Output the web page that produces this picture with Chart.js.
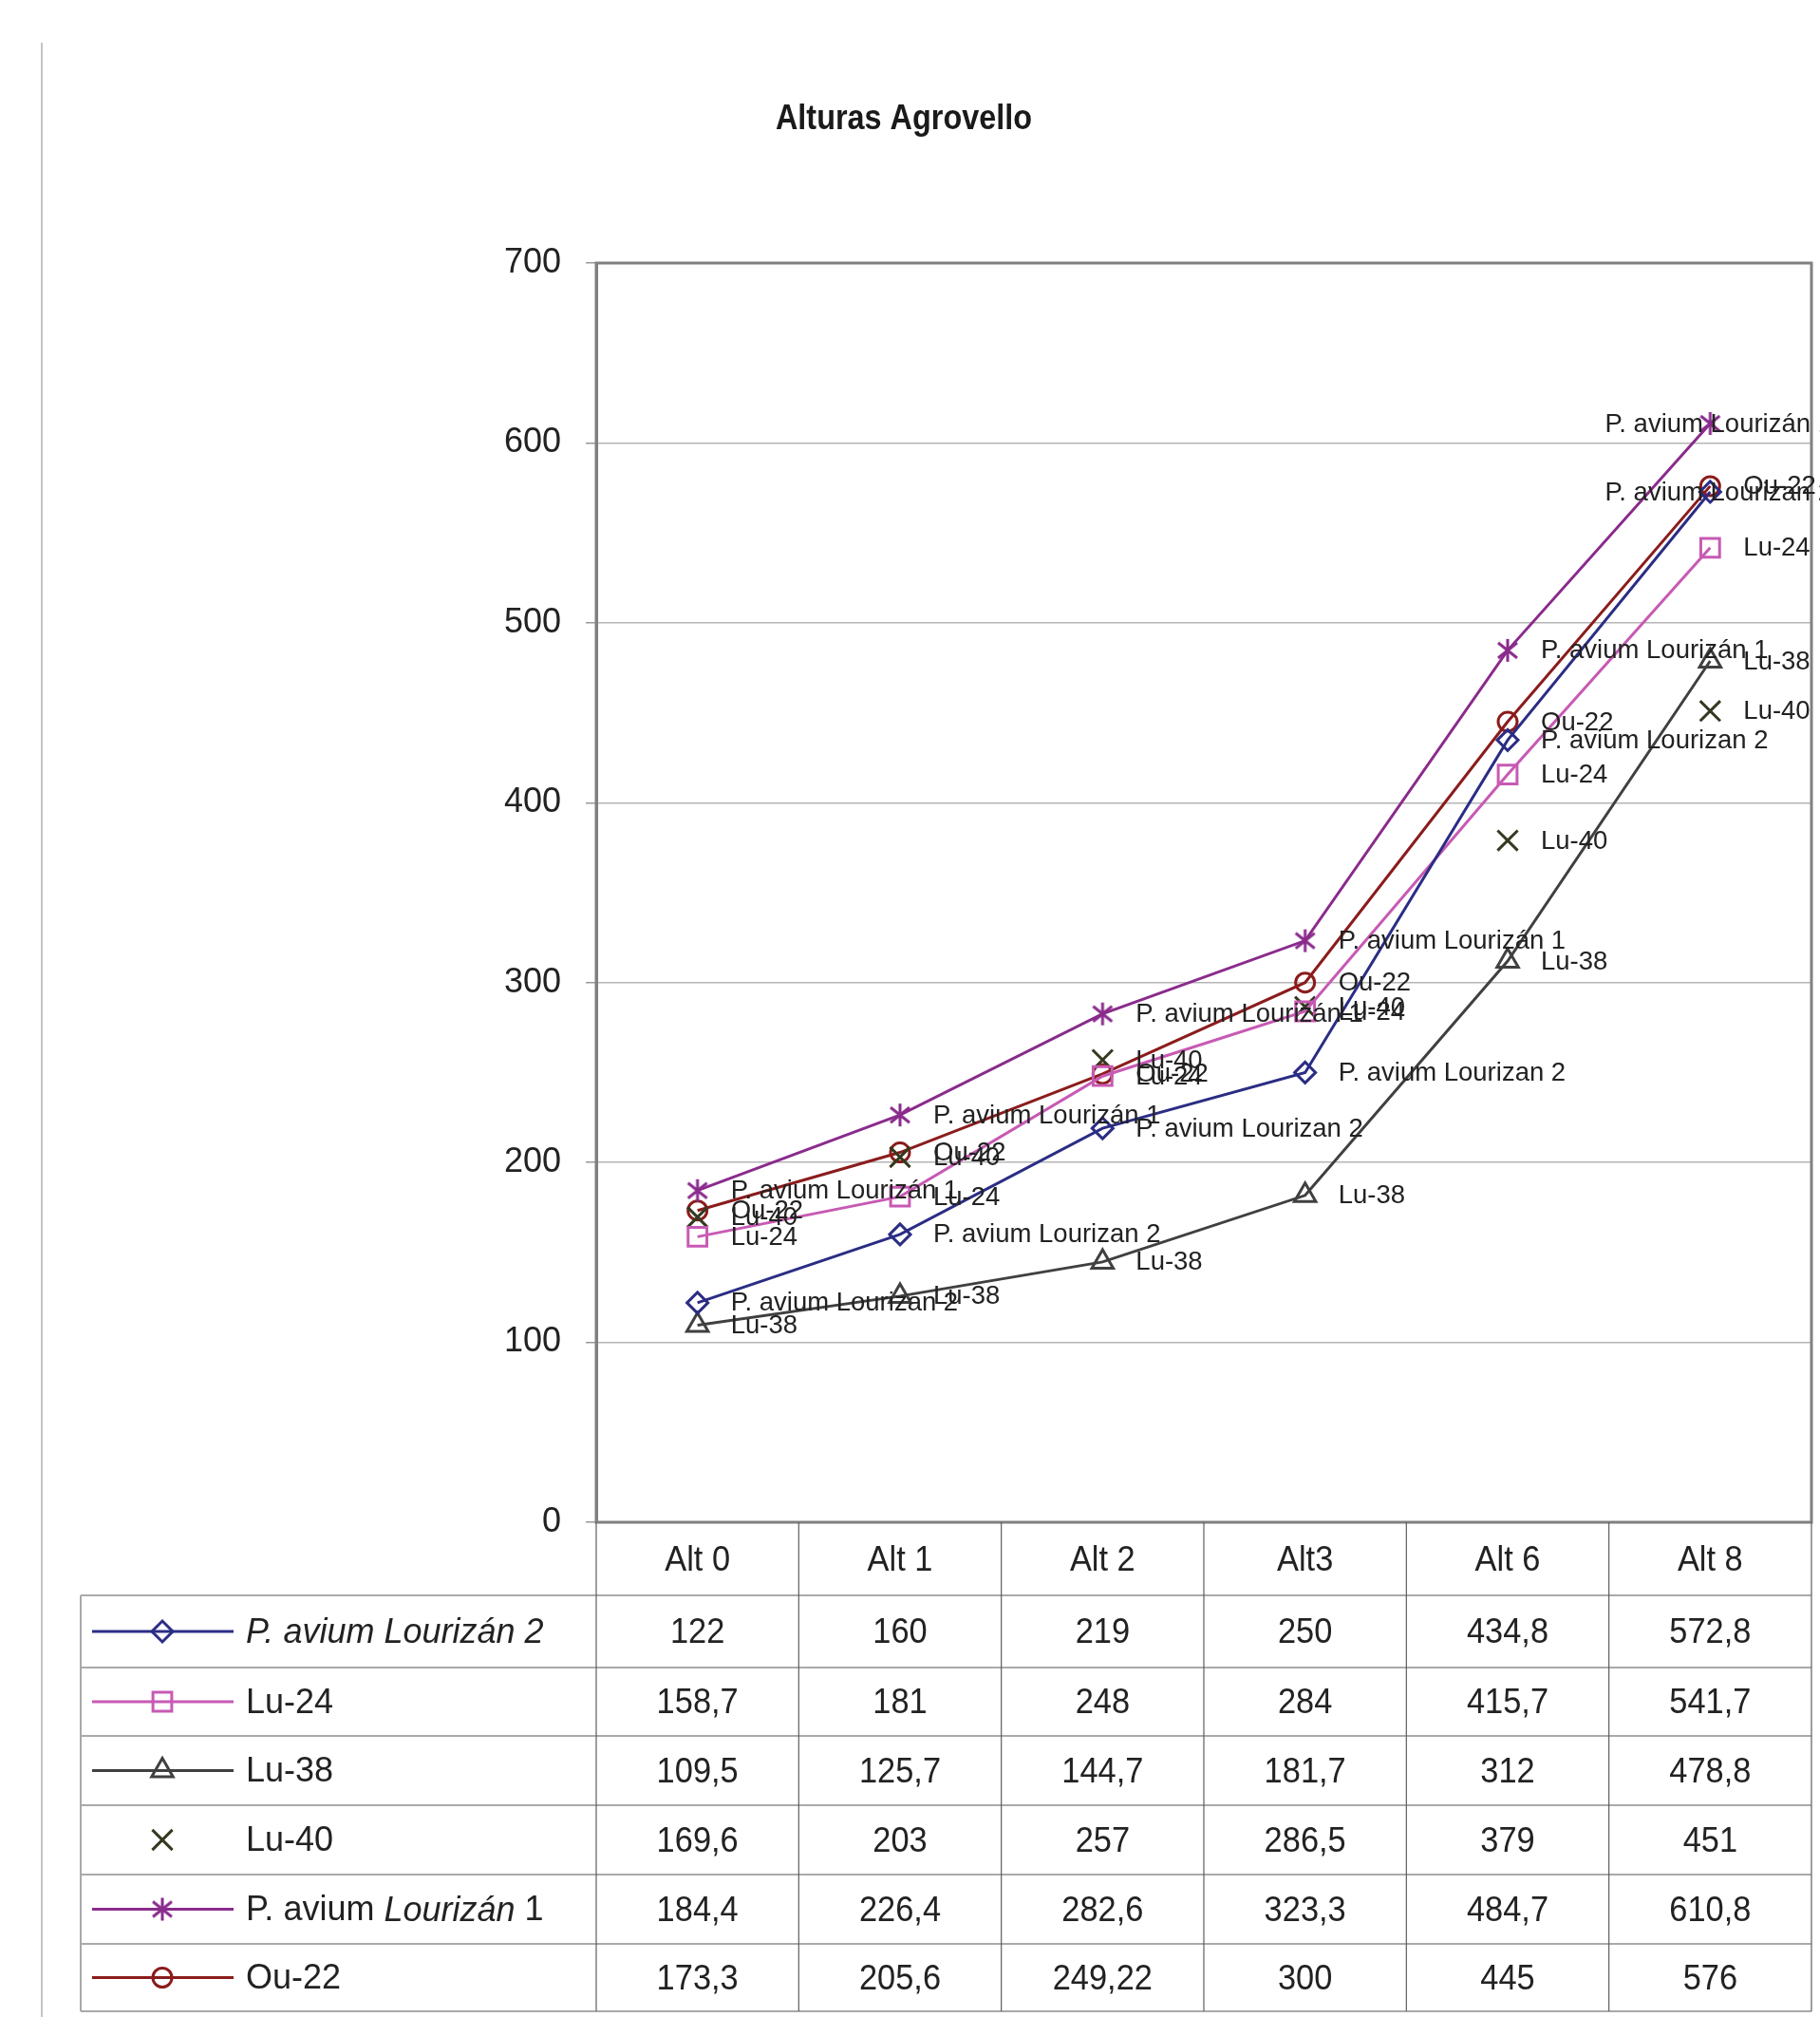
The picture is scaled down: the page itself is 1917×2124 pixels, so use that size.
<!DOCTYPE html>
<html>
<head>
<meta charset="utf-8">
<title>Alturas Agrovello</title>
<script src="https://cdn.jsdelivr.net/npm/chart.js@4.4.1/dist/chart.umd.min.js"></script>
<style>
  html, body { margin: 0; padding: 0; background: #fff; }
  #wrap { position: relative; width: 1917px; height: 2124px; }
  #page-line { position: absolute; left: 43px; top: 45px; width: 2px; height: 2079px; background: #c4c4c4; }
  canvas { position: absolute; left: 0; top: 0; }
</style>
</head>
<body>
<div id="wrap">
  <div id="page-line"></div>
  <canvas id="graph" width="1917" height="2124"></canvas>
</div>
<script>
const categories = ['Alt 0', 'Alt 1', 'Alt 2', 'Alt3', 'Alt 6', 'Alt 8'];

const lourizan2 = [122, 160, 219, 250, 434.8, 572.8];
const lu24 = [158.7, 181, 248, 284, 415.7, 541.7];
const lu38 = [109.5, 125.7, 144.7, 181.7, 312, 478.8];
const lu40 = [169.6, 203, 257, 286.5, 379, 451];
const lourizan1 = [184.4, 226.4, 282.6, 323.3, 484.7, 610.8];
const ou22 = [173.3, 205.6, 249.22, 300, 445, 576];

const seriesNames = ['P. avium Lourizán 2', 'Lu-24', 'Lu-38', 'Lu-40', 'P. avium Lourizán 1', 'Ou-22'];
// text shown next to each point
const pointLabels = ['P. avium Lourizan 2', 'Lu-24', 'Lu-38', 'Lu-40', 'P. avium Lourizán 1', 'Ou-22'];
// legend text in the data table, [text, italic]
const legendParts = [
  [['P. avium Lourizán 2', true]],
  [['Lu-24', false]],
  [['Lu-38', false]],
  [['Lu-40', false]],
  [['P. avium ', false], ['Lourizán', true], [' 1', false]],
  [['Ou-22', false]],
];

const yTicks = [0, 100, 200, 300, 400, 500, 600, 700];

const seriesValues = [lourizan2, lu24, lu38, lu40, lourizan1, ou22];
const colors = ['#2b2d84', '#c75ab4', '#404040', '#333a1f', '#8a2b8c', '#8b1c1c'];
const radii = [11, 14, 13, 15, 12, 10];

// excel-like asterisk marker (x plus vertical bar)
function asteriskMarker(color) {
  const c = document.createElement('canvas');
  c.width = 26;
  c.height = 26;
  const g = c.getContext('2d');
  g.strokeStyle = color;
  g.lineWidth = 3;
  g.beginPath();
  g.moveTo(13, 1); g.lineTo(13, 25);
  g.moveTo(3, 5); g.lineTo(23, 21);
  g.moveTo(23, 5); g.lineTo(3, 21);
  g.stroke();
  return c;
}

const markers = ['rectRot', 'rect', 'triangle', 'crossRot', asteriskMarker(colors[4]), 'circle'];

const FONT = "'Liberation Sans', Arial, sans-serif";
Chart.defaults.font.family = FONT;
Chart.defaults.color = '#222';

// table row boundaries (header row first)
const rowLines = [1603, 1680, 1756, 1828, 1901, 1974, 2047, 2118];
const tableLeft = 85;

const fmt = v => String(v).replace('.', ',');

const titlePlugin = {
  id: 'pageTitle',
  afterDraw(chart) {
    const ctx = chart.ctx;
    ctx.save();
    ctx.font = 'bold 36px ' + FONT;
    ctx.fillStyle = '#1a1a1a';
    ctx.textAlign = 'center';
    ctx.textBaseline = 'alphabetic';
    ctx.translate(952, 136);
    ctx.scale(0.9, 1);
    ctx.fillText('Alturas Agrovello', 0, 0);
    ctx.restore();
  }
};

const plotBorderPlugin = {
  id: 'plotBorder',
  beforeDatasetsDraw(chart) {
    const { ctx, chartArea: a } = chart;
    ctx.save();
    ctx.strokeStyle = '#808080';
    ctx.lineWidth = 3;
    ctx.strokeRect(a.left, a.top, a.right - a.left, a.bottom - a.top);
    ctx.restore();
  }
};

const pointLabelPlugin = {
  id: 'pointLabels',
  afterDatasetsDraw(chart) {
    const ctx = chart.ctx;
    ctx.save();
    ctx.font = '27.5px ' + FONT;
    ctx.fillStyle = '#222';
    ctx.textBaseline = 'middle';
    chart.data.datasets.forEach((ds, i) => {
      chart.getDatasetMeta(i).data.forEach(pt => {
        const text = pointLabels[i];
        const w = ctx.measureText(text).width;
        let x = pt.x + 35;
        if (x + w > 1930) x = 1930 - w;
        ctx.fillText(text, x, pt.y + 1);
      });
    });
    ctx.restore();
  }
};

const dataTablePlugin = {
  id: 'dataTable',
  afterDraw(chart) {
    const { ctx, chartArea: a } = chart;
    const xs = chart.scales.x;
    const colW = (a.right - a.left) / categories.length;
    const bottom = rowLines[rowLines.length - 1];
    ctx.save();

    // horizontal lines
    ctx.strokeStyle = '#a9a9a9';
    ctx.lineWidth = 2;
    rowLines.slice(1).forEach(y => {
      ctx.beginPath();
      ctx.moveTo(tableLeft, y);
      ctx.lineTo(a.right, y);
      ctx.stroke();
    });
    ctx.beginPath();
    ctx.moveTo(tableLeft, rowLines[1]);
    ctx.lineTo(tableLeft, bottom);
    ctx.stroke();

    // vertical column lines
    ctx.strokeStyle = '#5e5e5e';
    ctx.lineWidth = 1.2;
    for (let j = 0; j <= categories.length; j++) {
      const x = j < categories.length ? xs.getPixelForValue(j) - colW / 2 : xs.getPixelForValue(j - 1) + colW / 2;
      ctx.beginPath();
      ctx.moveTo(x, rowLines[0]);
      ctx.lineTo(x, bottom);
      ctx.stroke();
    }

    ctx.fillStyle = '#222';
    ctx.textAlign = 'center';
    ctx.textBaseline = 'middle';
    ctx.font = '37px ' + FONT;
    const narrowText = (t, x, y) => {
      ctx.save();
      ctx.translate(x, y);
      ctx.scale(0.93, 1);
      ctx.fillText(t, 0, 0);
      ctx.restore();
    };
    categories.forEach((c, j) => {
      narrowText(c, xs.getPixelForValue(j), (rowLines[0] + rowLines[1]) / 2 + 2);
    });
    seriesValues.forEach((vals, i) => {
      const yc = (rowLines[i + 1] + rowLines[i + 2]) / 2 + 2;
      vals.forEach((v, j) => narrowText(fmt(v), xs.getPixelForValue(j), yc));
    });

    // legend keys
    ctx.textAlign = 'left';
    seriesNames.forEach((name, i) => {
      const yc = (rowLines[i + 1] + rowLines[i + 2]) / 2;
      ctx.strokeStyle = colors[i];
      ctx.lineWidth = 3;
      if (i !== 3) {
        ctx.beginPath();
        ctx.moveTo(97, yc);
        ctx.lineTo(246, yc);
        ctx.stroke();
      }
      ctx.fillStyle = 'rgba(255,255,255,0)';
      ctx.lineWidth = 3;
      Chart.helpers.drawPoint(ctx, { pointStyle: markers[i], radius: radii[i], borderWidth: 3, rotation: 0 }, 171, yc);
      let x = 259;
      ctx.fillStyle = '#222';
      legendParts[i].forEach(([t, it]) => {
        ctx.font = (it ? 'italic ' : '') + '36px ' + FONT;
        ctx.fillText(t, x, yc + 2);
        x += ctx.measureText(t).width;
      });
    });
    ctx.restore();
  }
};

const chart = new Chart(document.getElementById('graph'), {
  type: 'line',
  data: {
    labels: categories,
    datasets: seriesNames.map((name, i) => ({
      label: name,
      data: seriesValues[i],
      borderColor: colors[i],
      backgroundColor: colors[i],
      borderWidth: 3,
      showLine: i !== 3,
      tension: 0,
      pointStyle: markers[i],
      pointRadius: radii[i],
      pointHoverRadius: radii[i],
      pointBorderColor: colors[i],
      pointBackgroundColor: 'rgba(255,255,255,0)',
      pointBorderWidth: 3,
    })),
  },
  options: {
    responsive: false,
    animation: false,
    devicePixelRatio: 1,
    layout: { autoPadding: false, padding: { left: 0, right: 9, top: 277, bottom: 521 } },
    plugins: {
      legend: { display: false },
      title: { display: false },
      tooltip: { enabled: false },
    },
    scales: {
      x: {
        type: 'category',
        offset: true,
        display: false,
      },
      y: {
        min: 0,
        max: 700,
        afterFit: scale => { scale.width = 628; },
        afterBuildTicks: scale => { scale.ticks = yTicks.map(v => ({ value: v })); },
        ticks: { font: { size: 36 }, color: '#222', padding: 26 },
        grid: { color: '#b5b5b5', lineWidth: 1.5, tickLength: 11, tickColor: '#999' },
        border: { color: '#808080', width: 3 },
      },
    },
  },
  plugins: [plotBorderPlugin, pointLabelPlugin, dataTablePlugin, titlePlugin],
});
</script>
</body>
</html>
